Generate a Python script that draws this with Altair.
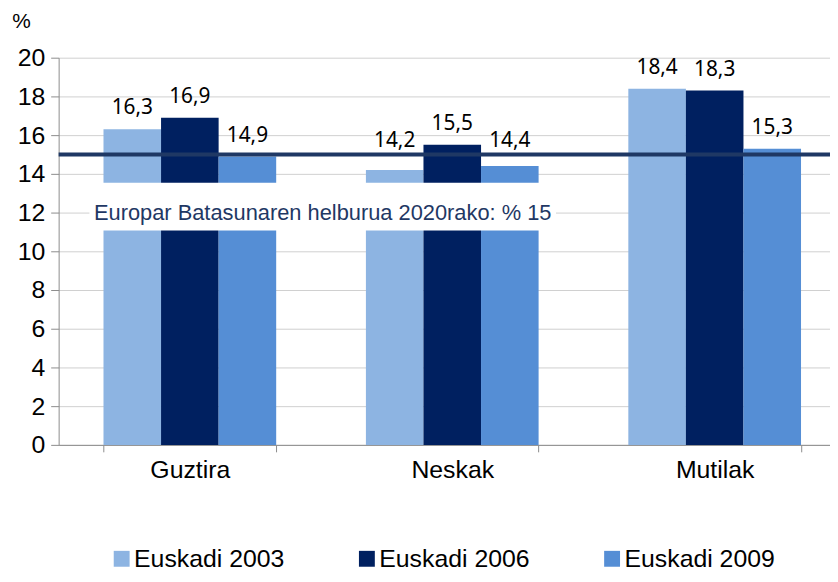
import altair as alt
import pandas as pd

categories = ["Guztira", "Neskak", "Mutilak"]
series = ["Euskadi 2003", "Euskadi 2006", "Euskadi 2009"]
v2003 = [16.3, 14.2, 18.4]
v2006 = [16.9, 15.5, 18.3]
v2009 = [14.9, 14.4, 15.3]
colors = ["#8DB4E2", "#002060", "#558ED5"]
target = 15
target_label = "Europar Batasunaren helburua 2020rako: % 15"

rows = []
for s, vals in zip(series, [v2003, v2006, v2009]):
    for c, v in zip(categories, vals):
        rows.append({"cat": c, "series": s, "value": v,
                     "label": f"{v:.1f}".replace(".", ",")})
df = pd.DataFrame(rows)

xscale = alt.Scale(domain=categories, paddingInner=0.342, paddingOuter=0.171, range=[0, 793])
base = alt.Chart(df).encode(
    x=alt.X("cat:N", sort=categories, scale=xscale, title=None,
            axis=alt.Axis(labelAngle=0, labelFontSize=25, labelFont="Liberation Sans",
                          labelColor="black", tickBand="extent", domainColor="#8C8C8C",
                          tickColor="#8C8C8C", tickSize=7, labelPadding=6, grid=False)),
    xOffset=alt.XOffset("series:N", sort=series),
)

yscale = alt.Scale(domain=[0, 20])
yaxis = alt.Axis(values=list(range(0, 21, 2)), labelFontSize=25, labelOverlap=False,
                 labelSeparation=0, labelBound=False,
                 labelFont="Liberation Sans", labelColor="black",
                 gridColor="#D0D0D0", domainColor="#8C8C8C", tickColor="#8C8C8C",
                 tickSize=8, labelPadding=6,
                 title="%", titleAngle=0, titleX=-38, titleY=-36,
                 titleAlign="center", titleBaseline="middle",
                 titleFont="Liberation Sans", titleFontSize=21,
                 titleFontWeight="normal", titleColor="black")

bars = base.mark_bar(size=58).encode(
    y=alt.Y("value:Q", scale=yscale, axis=yaxis),
    color=alt.Color("series:N", sort=series,
                    scale=alt.Scale(domain=series, range=colors),
                    legend=alt.Legend(title=None, orient="none", direction="horizontal",
                                      legendX=51, legendY=492, symbolType="square",
                                      symbolSize=256, symbolStrokeWidth=0,
                                      labelFontSize=25, labelFont="Liberation Sans",
                                      labelColor="black", columnPadding=70,
                                      labelOffset=0, labelLimit=300)),
)

# labels of bars below the target line are lifted just above it, as in the original
labels = base.transform_calculate(ly="max(datum.value, 14.6)").mark_text(
    baseline="alphabetic", dy=-15, fontSize=21, font="Noto Sans", color="black").encode(
    y=alt.Y("ly:Q", scale=yscale, axis=yaxis), text="label:N")

ann = pd.DataFrame({"y": [target], "lo": [11.08], "hi": [13.54], "ty": [12.0],
                    "text": [target_label]})
box = alt.Chart(ann).mark_rect(color="white").encode(
    x=alt.value(31), x2=alt.value(501),
    y=alt.Y("lo:Q", scale=yscale, axis=yaxis), y2="hi:Q")
rule = alt.Chart(ann).mark_rule(color="#1F3864", strokeWidth=4).encode(
    y=alt.Y("y:Q", scale=yscale, axis=yaxis))
txt = alt.Chart(ann).mark_text(fontSize=22, font="Liberation Sans", color="#1F3864",
                               align="center", baseline="middle").encode(
    x=alt.value(266), y=alt.Y("ty:Q", scale=yscale, axis=yaxis), text="text:N")

chart = alt.layer(bars, box, rule, labels, txt).properties(
    width=777, height=390,
    autosize=alt.AutoSizeParams(type="none"),
    padding={"left": 51, "top": 48, "right": 0, "bottom": 128},
).configure_view(stroke=None).configure_axis(labelOverlap=False)

chart.save("out.html", embed_options={"renderer": "svg", "actions": False})
